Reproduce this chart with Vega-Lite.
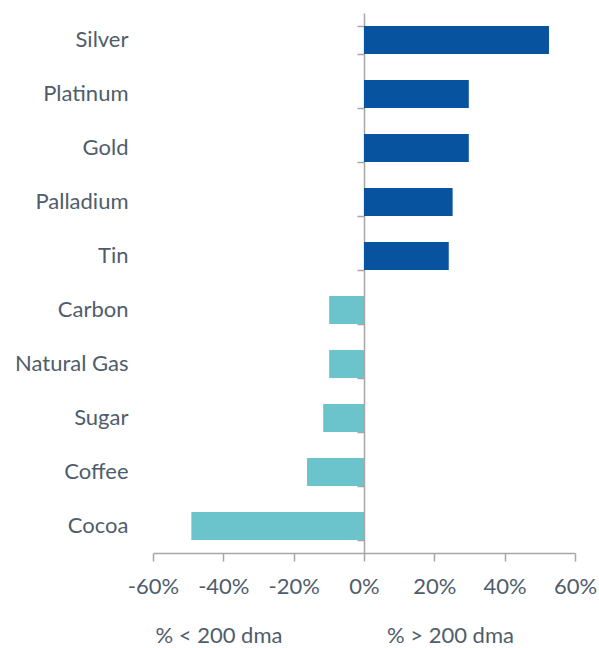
{
  "$schema": "https://vega.github.io/schema/vega-lite/v6.json",
  "width": 422,
  "height": 540,
  "autosize": {"type": "none"},
  "padding": {"left": 153, "top": 13, "right": 24, "bottom": 95},
  "config": {"view": {"stroke": null}, "font": "Lato"},
  "data": {
    "values": [
      {"commodity": "Silver", "pct": 52.6, "side": "above"},
      {"commodity": "Platinum", "pct": 29.8, "side": "above"},
      {"commodity": "Gold", "pct": 29.8, "side": "above"},
      {"commodity": "Palladium", "pct": 25.2, "side": "above"},
      {"commodity": "Tin", "pct": 24.1, "side": "above"},
      {"commodity": "Carbon", "pct": -9.9, "side": "below"},
      {"commodity": "Natural Gas", "pct": -9.9, "side": "below"},
      {"commodity": "Sugar", "pct": -11.6, "side": "below"},
      {"commodity": "Coffee", "pct": -16.2, "side": "below"},
      {"commodity": "Cocoa", "pct": -49.1, "side": "below"}
    ]
  },
  "layer": [
    {
      "mark": {"type": "bar"},
      "encoding": {
        "y": {
          "field": "commodity", "type": "nominal", "sort": null,
          "scale": {"paddingInner": 0.48, "paddingOuter": 0.24},
          "axis": {"title": null, "domain": false, "ticks": false, "labelPadding": 25, "labelFontSize": 22, "labelColor": "#4f5d6b", "labelFont": "Lato"}
        },
        "x": {
          "field": "pct", "type": "quantitative",
          "scale": {"domain": [-60, 60], "nice": false},
          "axis": {
            "values": [-60, -40, -20, 0, 20, 40, 60],
            "labelExpr": "datum.value + '%'",
            "labelFlush": false, "labelOverlap": false,
            "grid": false,
            "domainColor": "#a6a6a6", "domainWidth": 1.5,
            "tickColor": "#a6a6a6", "tickWidth": 1.5, "tickSize": 8,
            "labelFontSize": 22, "labelColor": "#4f5d6b", "labelPadding": 15, "labelFont": "Lato",
            "title": "% < 200 dma\u2003\u2003\u2003\u2003\u2003\u2003\u00a0% > 200 dma",
            "titleFont": "Lato", "titleFontWeight": "normal", "titleFontSize": 22, "titleColor": "#4f5d6b",
            "titleAnchor": "start", "titleAlign": "left", "titleX": 2, "titlePadding": 28
          }
        },
        "color": {
          "field": "side", "type": "nominal",
          "scale": {"domain": ["above", "below"], "range": ["#0753a0", "#6bc3cc"]},
          "legend": null
        }
      }
    },
    {
      "mark": {"type": "bar", "opacity": 0},
      "encoding": {
        "y": {
          "field": "commodity", "type": "nominal", "sort": null,
          "axis": {"orient": "left", "offset": -211, "labels": false, "title": null, "domain": true, "ticks": true, "tickBand": "extent", "tickSize": 7, "tickColor": "#a6a6a6", "domainColor": "#a6a6a6", "tickWidth": 1.5, "domainWidth": 1.5}
        },
        "x": {"field": "pct", "type": "quantitative"}
      }
    }
  ],
  "resolve": {"axis": {"y": "independent"}}
}
